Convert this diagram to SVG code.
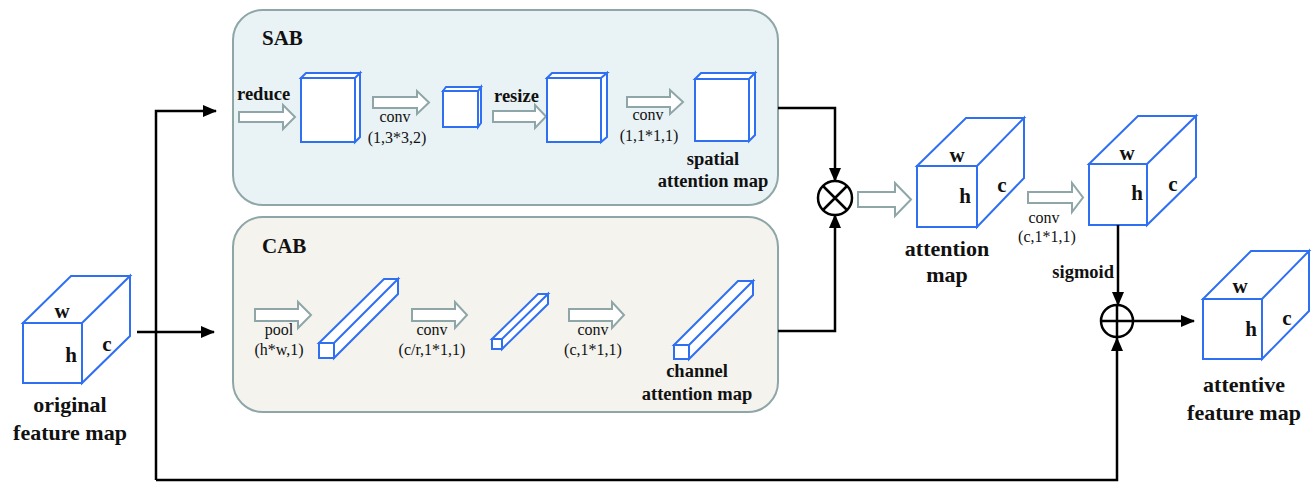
<svg xmlns="http://www.w3.org/2000/svg" width="1314" height="484" viewBox="0 0 1314 484">
<style>
.box{stroke:#8fa6a8;stroke-width:2}
.cube{fill:#fff;stroke:#2f6ff2;stroke-width:2;stroke-linejoin:miter}
.harrow{fill:#fff;stroke:#8fa6a8;stroke-width:2}
.conn{fill:none;stroke:#000;stroke-width:2.5}
.op{fill:#fff;stroke:#000;stroke-width:2.5}
.t{font-family:"Liberation Serif","Times New Roman",serif;fill:#111}
.b{font-weight:bold}
.big{font-size:22px}
.mid{font-size:18.5px}
.sm{font-size:16px}
.dim{font-size:21px;font-weight:bold}
</style>
<defs>
<marker id="ah" markerUnits="userSpaceOnUse" markerWidth="14" markerHeight="12" refX="13" refY="6" orient="auto">
<path d="M0,0 L14,6 L0,12 Z" fill="#000"/>
</marker>
</defs>
<rect width="1314" height="484" fill="#fff"/>

<g id="SAB">
<rect class="box" x="233" y="10" width="545" height="195" rx="30" fill="#e9f3f5"/>
<text class="t b" x="262" y="45" font-size="21">SAB</text>
<text class="t b mid" x="237" y="100">reduce</text>
<polygon class="harrow" points="239,112 283,112 283,105 295,117 283,129 283,122 239,122"/>
<g class="cube"><rect x="301" y="78" width="54" height="64"/><path d="M301,78 L306,73 L360,73 L355,78 Z M355,78 L360,73 L360,137 L355,142 Z"/></g>
<polygon class="harrow" points="373,97 417,97 417,91 429,102.5 417,114 417,108 373,108"/>
<text class="t sm" x="395" y="122" text-anchor="middle">conv</text>
<text class="t sm" x="397" y="143" text-anchor="middle">(1,3*3,2)</text>
<g class="cube"><rect x="443" y="91" width="35" height="36"/><path d="M443,91 L446,87 L481,87 L478,91 Z M478,91 L481,87 L481,123 L478,127 Z"/></g>
<text class="t b mid" x="494" y="102">resize</text>
<polygon class="harrow" points="493,111 535,111 535,105 546,116.5 535,128 535,122 493,122"/>
<g class="cube"><rect x="547" y="78" width="54" height="64"/><path d="M547,78 L552,73 L607,73 L601,78 Z M601,78 L607,73 L607,137 L601,142 Z"/></g>
<polygon class="harrow" points="627,97 670,97 670,90 683,102 670,114 670,107 627,107"/>
<text class="t sm" x="648" y="120" text-anchor="middle">conv</text>
<text class="t sm" x="649" y="141" text-anchor="middle">(1,1*1,1)</text>
<g class="cube"><rect x="695" y="79" width="54" height="62"/><path d="M695,79 L701,73 L755,73 L749,79 Z M749,79 L755,73 L755,135 L749,141 Z"/></g>
<text class="t b mid" x="713" y="165" text-anchor="middle">spatial</text>
<text class="t b mid" x="713" y="187" text-anchor="middle">attention map</text>
</g>

<g id="CAB">
<rect class="box" x="233" y="217" width="545" height="195" rx="30" fill="#f4f3ee"/>
<text class="t b" x="262" y="253" font-size="21">CAB</text>
<polygon class="harrow" points="255,309 298,309 298,302 311,315 298,328 298,321 255,321"/>
<text class="t sm" x="279" y="335" text-anchor="middle">pool</text>
<text class="t sm" x="279" y="355" text-anchor="middle">(h*w,1)</text>
<g class="cube"><rect x="319" y="343" width="15" height="15"/><path d="M319,343 L384,279 L398,279 L334,343 Z M334,343 L398,279 L398,294 L334,358 Z"/></g>
<polygon class="harrow" points="412,309 455,309 455,302 467,315 455,328 455,321 412,321"/>
<text class="t sm" x="432" y="335" text-anchor="middle">conv</text>
<text class="t sm" x="432" y="355" text-anchor="middle">(c/r,1*1,1)</text>
<g class="cube"><rect x="492" y="339" width="10" height="10"/><path d="M492,339 L538,294 L548,294 L502,339 Z M502,339 L548,294 L548,304 L502,349 Z"/></g>
<polygon class="harrow" points="569,309 612,309 612,302 624,315 612,328 612,321 569,321"/>
<text class="t sm" x="593" y="335" text-anchor="middle">conv</text>
<text class="t sm" x="593" y="355" text-anchor="middle">(c,1*1,1)</text>
<g class="cube"><rect x="674" y="345" width="15" height="14"/><path d="M674,345 L738,281 L753,281 L689,345 Z M689,345 L753,281 L753,295 L689,359 Z"/></g>
<text class="t b mid" x="697" y="377" text-anchor="middle">channel</text>
<text class="t b mid" x="697" y="400" text-anchor="middle">attention map</text>
</g>

<g id="original">
<g class="cube"><rect x="23" y="323" width="59" height="60"/><path d="M23,323 L71,276 L130,276 L82,323 Z M82,323 L130,276 L130,336 L82,383 Z"/></g>
<text class="t dim" x="62" y="318" text-anchor="middle">w</text>
<text class="t dim" x="71" y="362" text-anchor="middle">h</text>
<text class="t dim" x="107" y="351" text-anchor="middle">c</text>
<text class="t b big" x="70" y="412" text-anchor="middle">original</text>
<text class="t b big" x="70" y="440" text-anchor="middle">feature map</text>
</g>

<g id="multiply">
<circle class="op" cx="835" cy="198" r="17"/>
<path d="M823,186 L847,210 M847,186 L823,210" stroke="#000" stroke-width="2.5"/>
</g>

<g id="attention-map">
<polygon class="harrow" points="858,192 895,192 895,183 911,199.5 895,216 895,207 858,207"/>
<g class="cube"><rect x="917" y="166" width="60" height="61"/><path d="M917,166 L966,118 L1024,118 L977,166 Z M977,166 L1024,118 L1024,178 L977,227 Z"/></g>
<text class="t dim" x="957" y="162" text-anchor="middle">w</text>
<text class="t dim" x="965" y="203" text-anchor="middle">h</text>
<text class="t dim" x="1002" y="192" text-anchor="middle">c</text>
<text class="t b big" x="947" y="256" text-anchor="middle">attention</text>
<text class="t b big" x="947" y="282" text-anchor="middle">map</text>
</g>

<g id="conv-map">
<polygon class="harrow" points="1028,192 1072,192 1072,183 1083,197.5 1072,212 1072,203 1028,203"/>
<text class="t sm" x="1044" y="223" text-anchor="middle">conv</text>
<text class="t sm" x="1047" y="242" text-anchor="middle">(c,1*1,1)</text>
<g class="cube"><rect x="1089" y="164" width="58" height="61"/><path d="M1089,164 L1138,116 L1196,116 L1147,164 Z M1147,164 L1196,116 L1196,177 L1147,225 Z"/></g>
<text class="t dim" x="1127" y="160" text-anchor="middle">w</text>
<text class="t dim" x="1137" y="200" text-anchor="middle">h</text>
<text class="t dim" x="1173" y="191" text-anchor="middle">c</text>
</g>

<g id="add">
<circle class="op" cx="1117" cy="321" r="16"/>
<path d="M1101,321 L1133,321 M1117,305 L1117,337" stroke="#000" stroke-width="2.5"/>
</g>

<g id="attentive">
<g class="cube"><rect x="1203" y="299" width="59" height="60"/><path d="M1203,299 L1251,251 L1309,251 L1262,299 Z M1262,299 L1309,251 L1309,311 L1262,359 Z"/></g>
<text class="t dim" x="1240" y="293" text-anchor="middle">w</text>
<text class="t dim" x="1251" y="336" text-anchor="middle">h</text>
<text class="t dim" x="1287" y="325" text-anchor="middle">c</text>
<text class="t b big" x="1244" y="392" text-anchor="middle">attentive</text>
<text class="t b big" x="1244" y="420" text-anchor="middle">feature map</text>
</g>

<g id="connectors">
<path class="conn" d="M137,332 L214,332" marker-end="url(#ah)"/>
<path class="conn" d="M156,480 L156,111 L216,111" marker-end="url(#ah)"/>
<path class="conn" d="M156,480 L1117,480 L1117,338" marker-end="url(#ah)"/>
<path class="conn" d="M778,108 L835,108 L835,181" marker-end="url(#ah)"/>
<path class="conn" d="M778,331 L835,331 L835,215" marker-end="url(#ah)"/>
<path class="conn" d="M1118,225 L1118,305" marker-end="url(#ah)"/>
<path class="conn" d="M1133,321 L1194,321" marker-end="url(#ah)"/>
<text class="t b mid" x="1114" y="278" text-anchor="end">sigmoid</text>
</g>
</svg>
